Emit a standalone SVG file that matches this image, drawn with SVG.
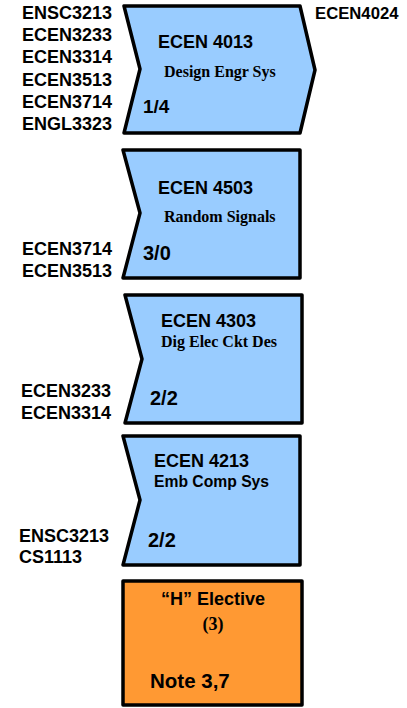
<svg xmlns="http://www.w3.org/2000/svg" width="407" height="708" viewBox="0 0 407 708">
<style>
.box{fill:#99CCFF;stroke:#000;stroke-width:3.5;stroke-linejoin:round}
.org{fill:#FF9933;stroke:#000;stroke-width:3.5;stroke-linejoin:round}
.lbl{font-family:"Liberation Sans",Arial,sans-serif;font-weight:bold;font-size:18px;fill:#000}
.code{font-family:"Liberation Sans",Arial,sans-serif;font-weight:bold;font-size:18px;fill:#000}
.name{font-family:"Liberation Serif","Times New Roman",serif;font-weight:bold;font-size:16px;fill:#000}
.cr{font-family:"Liberation Sans",Arial,sans-serif;font-weight:bold;font-size:20px;fill:#000}
</style>
<rect width="407" height="708" fill="#fff"/>
<g id="connectors"></g>
<g id="prereqs">
<text class="lbl" x="22" y="19">ENSC3213</text>
<text class="lbl" x="22" y="41">ECEN3233</text>
<text class="lbl" x="22" y="63">ECEN3314</text>
<text class="lbl" x="22" y="86">ECEN3513</text>
<text class="lbl" x="22" y="108">ECEN3714</text>
<text class="lbl" x="22" y="130">ENGL3323</text>
<text class="lbl" x="315" y="19" style="font-size:16.7px">ECEN4024</text>
<text class="lbl" x="22" y="255">ECEN3714</text>
<text class="lbl" x="22" y="277">ECEN3513</text>
<text class="lbl" x="21" y="397">ECEN3233</text>
<text class="lbl" x="21" y="419">ECEN3314</text>
<text class="lbl" x="19" y="542">ENSC3213</text>
<text class="lbl" x="19" y="563">CS1113</text>
</g>
<g id="ecen4013">
<path class="box" d="M124,6 L300,6 L315,70 L300,133 L124,133 L140,69 Z"/>
<text class="code" x="158" y="48">ECEN 4013</text>
<text class="name" x="164" y="77">Design Engr Sys</text>
<text class="cr" x="143" y="113" style="font-size:19px">1/4</text>
</g>
<g id="ecen4503">
<path class="box" d="M123,150 L300,150 L300,278 L123,278 L140,213 Z"/>
<text class="code" x="158" y="194">ECEN 4503</text>
<text class="name" x="164" y="222">Random Signals</text>
<text class="cr" x="143" y="260">3/0</text>
</g>
<g id="ecen4303">
<path class="box" d="M125,295 L302,295 L302,423 L125,423 L142,359 Z"/>
<text class="code" x="161" y="327">ECEN 4303</text>
<text class="name" x="161" y="347">Dig Elec Ckt Des</text>
<text class="cr" x="150" y="405">2/2</text>
</g>
<g id="ecen4213">
<path class="box" d="M123,436 L300,436 L300,565 L123,565 L140,500 Z"/>
<text class="code" x="154" y="467">ECEN 4213</text>
<text class="code" x="154" y="487" style="font-size:15.7px">Emb Comp Sys</text>
<text class="cr" x="148" y="547">2/2</text>
</g>
<g id="elective">
<rect class="org" x="123" y="581" width="179" height="124"/>
<text class="code" x="213" y="605" text-anchor="middle">“H” Elective</text>
<text class="name" x="213" y="630" text-anchor="middle" style="font-size:18px">(3)</text>
<text class="cr" x="150" y="688" style="font-size:20.5px">Note 3,7</text>
</g>
</svg>
